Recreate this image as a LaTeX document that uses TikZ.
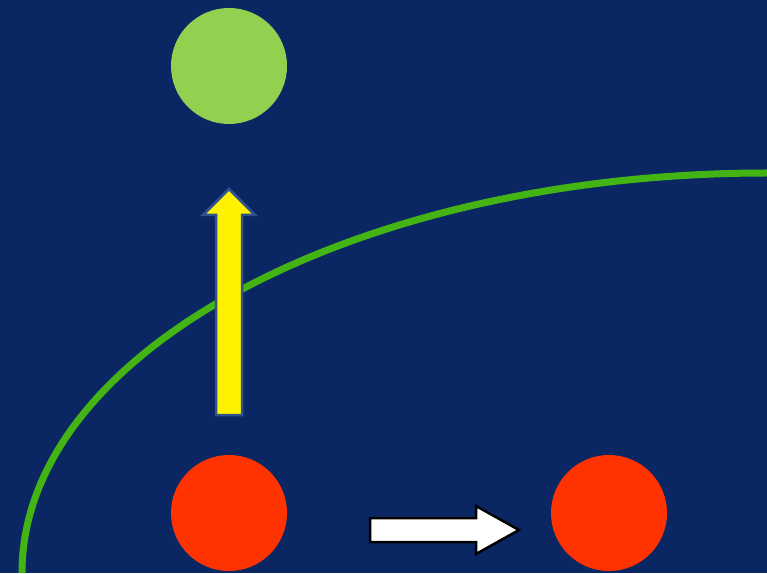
\documentclass[tikz,border=0pt]{standalone}
\usepackage{xcolor}
\usepackage{tikz}
\usetikzlibrary{calc, positioning}

\definecolor{navy}{RGB}{10,39,99}
\definecolor{lightgreen}{RGB}{146,208,80}
\definecolor{curvegreen}{RGB}{68,180,20}
\definecolor{redball}{RGB}{255,51,0}
\definecolor{edgeblue}{RGB}{47,82,143}

\begin{document}
\begin{tikzpicture}[x=1pt, y=1pt,
    ball/.style={circle, minimum size=116pt, inner sep=0pt},
    upblock/.style={fill=yellow, draw=edgeblue, line width=2.5pt, line join=miter},
    rightblock/.style={fill=white, draw=black, line width=2.5pt, line join=miter}]
    \fill[navy] (0,0) rectangle (767,573);
    \useasboundingbox (0,0) rectangle (767,573);

    \node[ball, fill=lightgreen] (top) at (229,507) {};
    \node[ball, fill=redball] (left) at (229,60) {};
    \node[ball, fill=redball] (right) at (609,60) {};

    % boundary curve
    \draw[curvegreen, line width=7pt] (22,0) arc[start angle=180, end angle=90, x radius=745pt, y radius=400pt];

    \draw[upblock] ($(left)+(-13,98)$) -- ++(0,200) -- ++(-13,0) -- ($(left)+(0,324)$)
        -- ($(left)+(26,298)$) -- ++(-13,0) -- ++(0,-200) -- cycle;
    \draw[rightblock] ($(right)+(-239,-5)$) -- ++(106,0) -- ++(0,12) -- ($(right)+(-90,-17)$)
        -- ($(right)+(-133,-41)$) -- ++(0,12) -- ++(-106,0) -- cycle;
\end{tikzpicture}
\end{document}
